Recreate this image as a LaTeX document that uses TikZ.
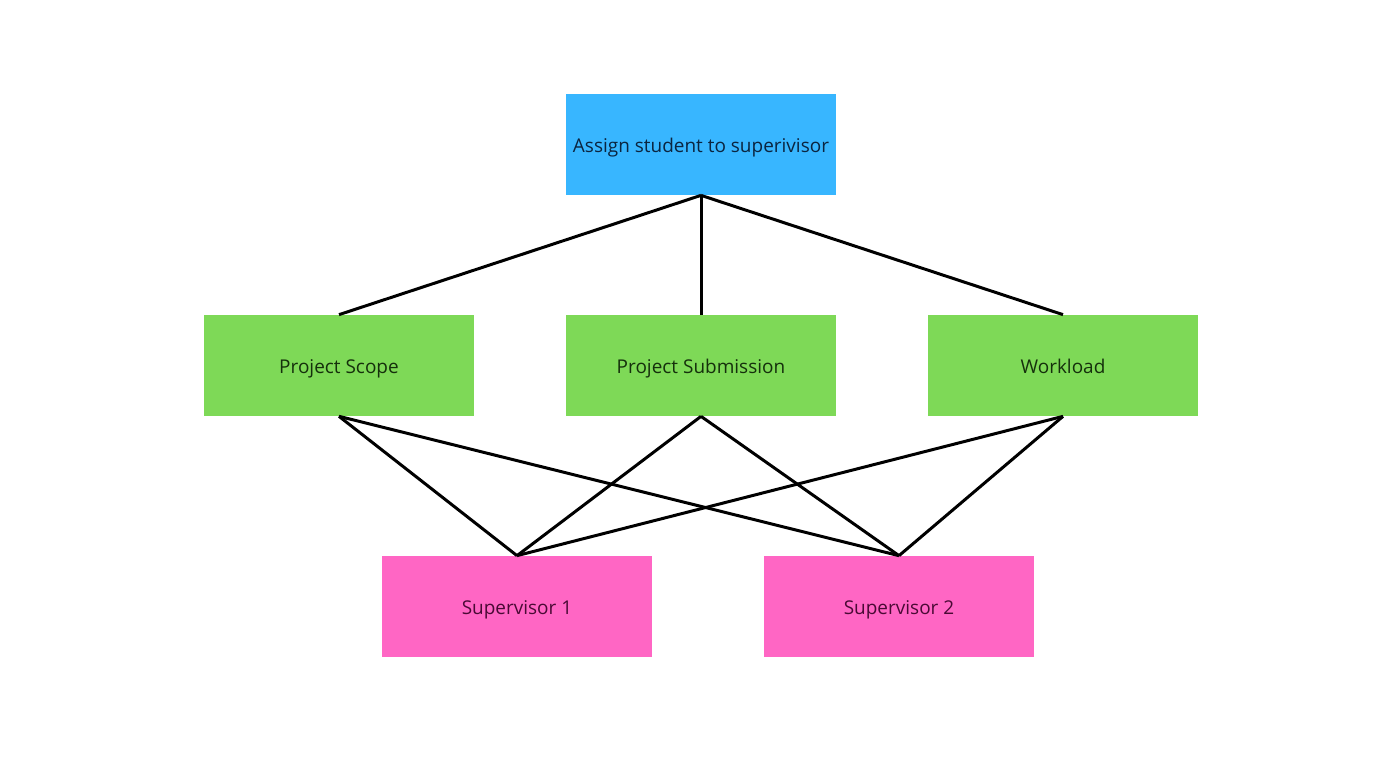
\documentclass[tikz,border=0pt]{standalone}
\usepackage{fontspec}
\setmainfont{Open Sans}
\usepackage{tikz}
\definecolor{topblue}{HTML}{38B6FF}
\definecolor{critgreen}{HTML}{7ED957}
\definecolor{suppink}{HTML}{FF66C4}
\definecolor{bluetext}{HTML}{0B2540}
\definecolor{greentext}{HTML}{15300C}
\definecolor{pinktext}{HTML}{4A0A35}
\tikzset{box/.style={rectangle, minimum width=5.4cm, minimum height=2.02cm, inner sep=0pt, text height=2ex, text depth=0.25ex, font=\fontsize{10.8}{13}\selectfont},
goal/.style={box, fill=topblue, text=bluetext},
crit/.style={box, fill=critgreen, text=greentext},
alt/.style={box, fill=suppink, text=pinktext},
link/.style={line width=1.7pt, black}}

\begin{document}
\begin{tikzpicture}
\useasboundingbox (0,0) rectangle (27.6,15.52);
%\draw [help lines] (0,0) grid (27.6,15.52);
% goal
\node[goal] (assign) at (14.02,12.63) {Assign student to superivisor};

% criteria
\node[crit] (scope) at (6.78,8.21) {Project Scope};
\node[crit] (submission) at (14.02,8.21) {Project Submission};
\node[crit] (workload) at (21.26,8.21) {Workload};

% alternatives
\node[alt] (sup1) at (10.34,3.39) {Supervisor 1};
\node[alt] (sup2) at (17.98,3.39) {Supervisor 2};

%links
\foreach \c in {scope,submission,workload}
     \draw[link] (assign.south) -- (\c.north);

\foreach \c in {scope,submission,workload}
     \foreach \s in {sup1,sup2}
          \draw[link] (\c.south) -- (\s.north);

\end{tikzpicture}
\end{document}
